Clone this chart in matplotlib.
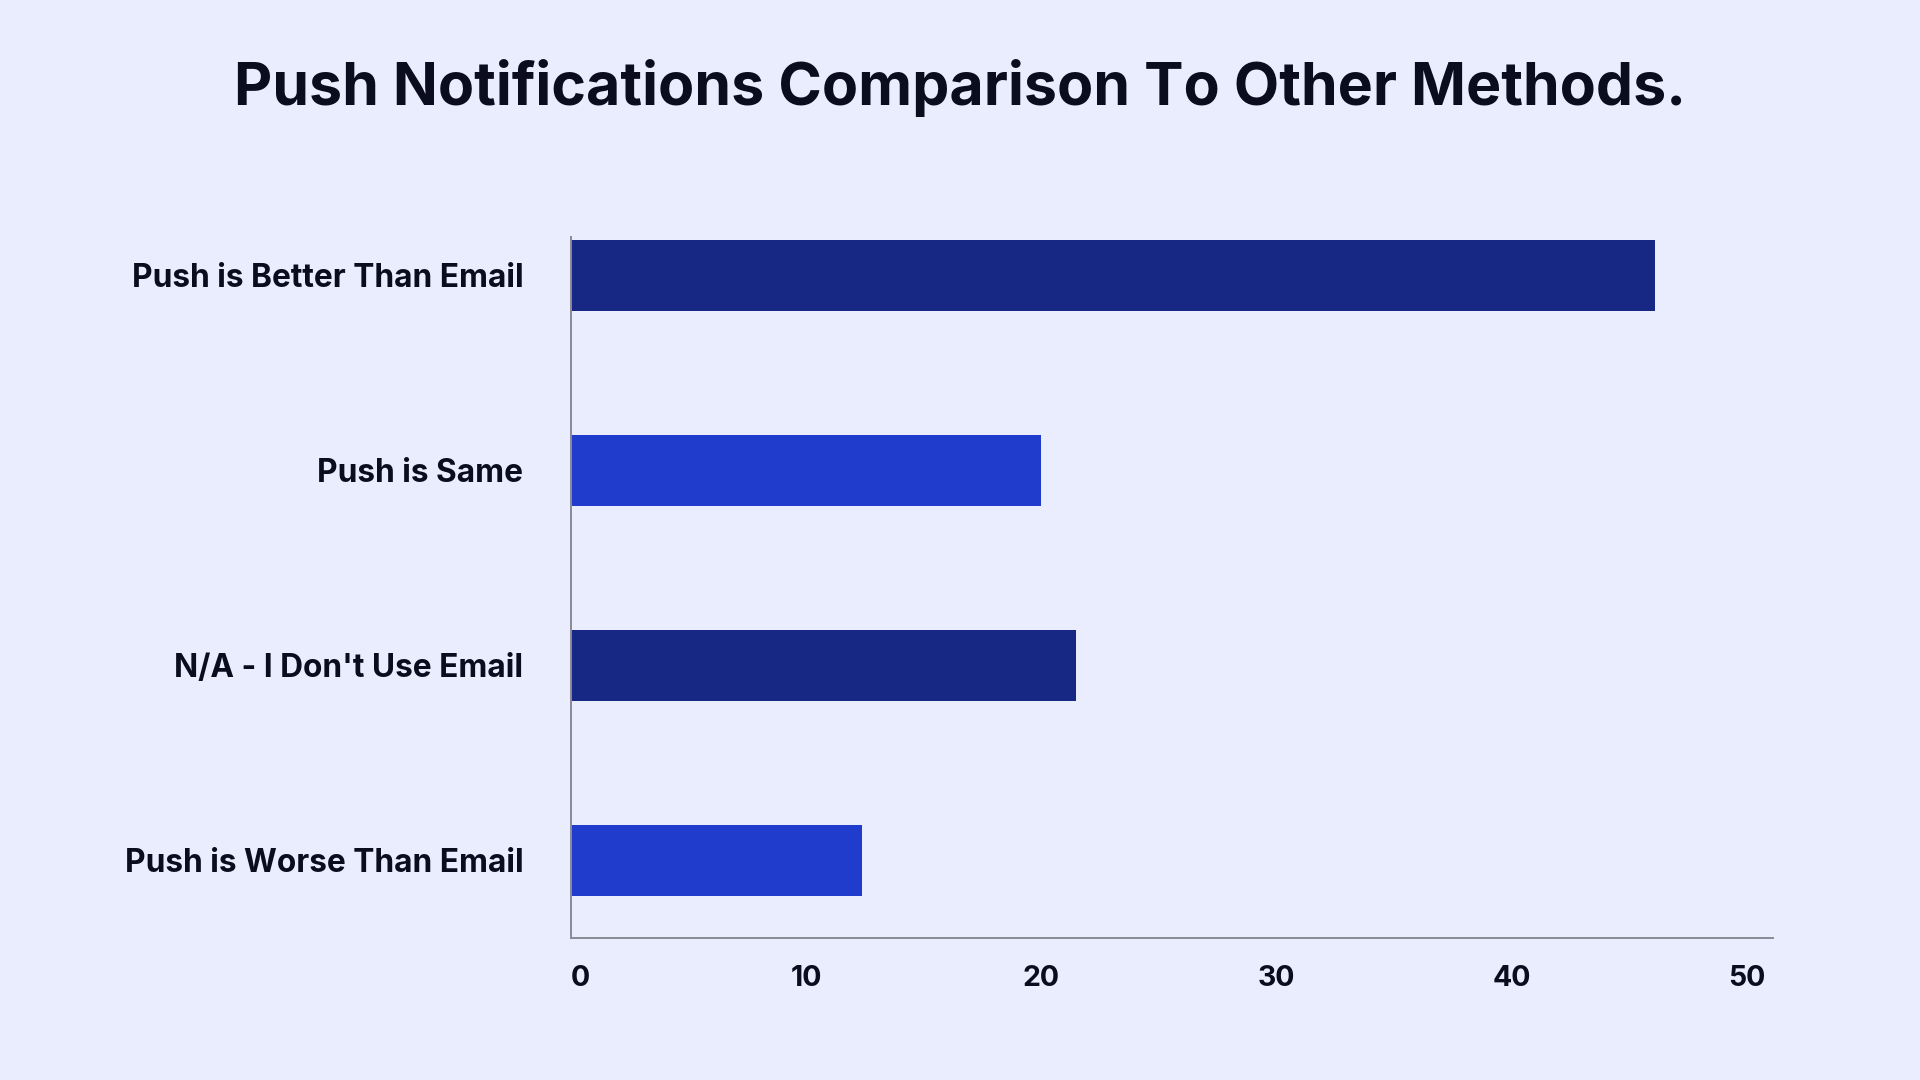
import matplotlib.pyplot as plt
import matplotlib as mpl

mpl.rcParams['font.family'] = ['Inter', 'DejaVu Sans']

# data
categories = ['Push is Better Than Email', 'Push is Same',
              "N/A - I Don't Use Email", 'Push is Worse Than Email']
values = [46.1, 20.0, 21.5, 12.4]
bar_colors = ['#162884', '#203ccc', '#162884', '#203ccc']
ticks = [0, 10, 20, 30, 40, 50]

bg = '#e9edfd'
txt = '#0b0d1f'

fig = plt.figure(figsize=(19.2, 10.8), dpi=100, facecolor=bg)
ax = fig.add_axes([0.2972, 0.1318, 0.6262, 0.6490])
ax.set_facecolor(bg)

ypos = list(range(len(categories)))
ax.barh(ypos, values, height=0.3624, color=bar_colors)

ax.set_xlim(0, 51.1)
ax.set_ylim(3.397, -0.198)

ax.set_yticks(ypos)
ax.set_yticklabels(categories, fontsize=22.8, fontweight='bold', color=txt)
ax.set_xticks(ticks)
ax.set_xticklabels([str(t) for t in ticks], fontsize=20.5, fontweight='bold', color=txt)
ax.get_xticklabels()[0].set_horizontalalignment('left')
ax.tick_params(axis='y', length=0, pad=34)
ax.tick_params(axis='x', length=0, pad=20)

for s in ['top', 'right']:
    ax.spines[s].set_visible(False)
for s in ['left', 'bottom']:
    ax.spines[s].set_color('#8a8a96')
    ax.spines[s].set_linewidth(1.4)

fig.text(0.5, 0.903, 'Push Notifications Comparison To Other Methods.',
         ha='center', va='baseline', fontsize=42.5, fontweight='bold', color=txt)

fig.savefig('out.png', dpi=100, facecolor=bg)
